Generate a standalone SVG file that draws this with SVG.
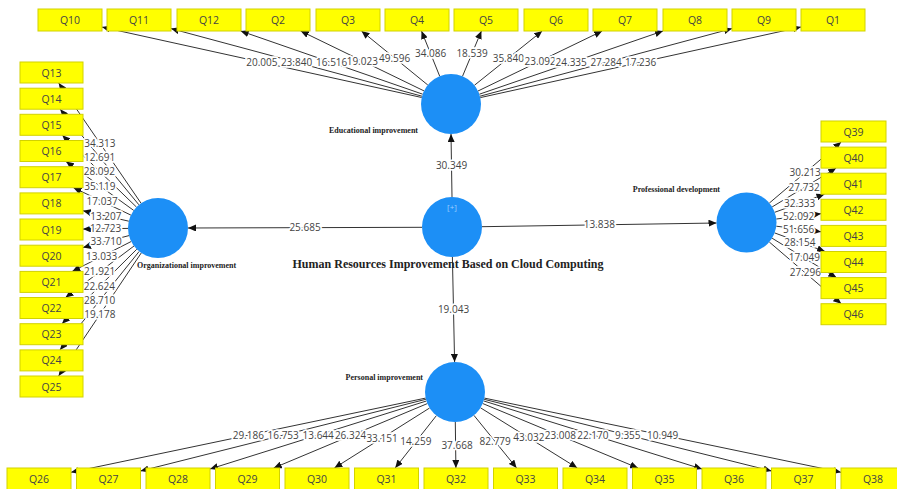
<svg xmlns="http://www.w3.org/2000/svg" width="897" height="489" viewBox="0 0 897 489">
<style>
.ln{stroke:#333;stroke-width:1;fill:none;marker-end:url(#ah)}
.lb{font-family:"Open Sans","Liberation Sans",sans-serif;font-size:10px;fill:#444;text-anchor:middle;stroke:#fff;stroke-width:3.5px;paint-order:stroke;stroke-linejoin:round}
.b{fill:#ffff00;stroke:#d2d200;stroke-width:1}
.bt{font-family:"Open Sans","Liberation Sans",sans-serif;font-size:10.5px;fill:#444;text-anchor:middle}
.c{fill:#1c8ff6}
.nl{font-family:"Liberation Serif",serif;font-weight:bold;font-size:8px;fill:#222}
</style>
<defs>
<marker id="ah" markerUnits="userSpaceOnUse" markerWidth="8" markerHeight="7" refX="8" refY="3.5" orient="auto"><path d="M0,0 L8,3.5 L0,7 z" fill="#111"/></marker>
</defs>
<rect width="897" height="489" fill="#fff"/>
<g id="connectors">
<path class="ln" d="M421.7,97.5 L102,27.1"/>
<path class="ln" d="M422,96.2 L171,28.6"/>
<path class="ln" d="M422.7,94.2 L240.7,31"/>
<path class="ln" d="M424,90.9 L300.7,31"/>
<path class="ln" d="M427.8,85 L361.5,31"/>
<path class="ln" d="M439.7,76.2 L421.5,31"/>
<path class="ln" d="M462.5,76.3 L481.4,31"/>
<path class="ln" d="M474.4,85.3 L542.2,31"/>
<path class="ln" d="M478,91 L602.2,31"/>
<path class="ln" d="M479.4,94.2 L663,31"/>
<path class="ln" d="M480,96.2 L732,28.6"/>
<path class="ln" d="M480.3,97.6 L801,27"/>
<path class="ln" d="M141.1,203.3 L58.7,83"/>
<path class="ln" d="M138.9,204.8 L60.2,109.2"/>
<path class="ln" d="M136.5,207.1 L62.3,135.3"/>
<path class="ln" d="M133.7,210.4 L66,161.5"/>
<path class="ln" d="M130.9,215.1 L73.5,187.7"/>
<path class="ln" d="M128.8,221.2 L83,210.7"/>
<path class="ln" d="M128,228.4 L83,229.1"/>
<path class="ln" d="M129,235.6 L83,247.5"/>
<path class="ln" d="M131.2,241.5 L72.2,271.4"/>
<path class="ln" d="M134,246 L65.5,297.5"/>
<path class="ln" d="M136.8,249.2 L62,323.7"/>
<path class="ln" d="M139.2,251.4 L60,349.9"/>
<path class="ln" d="M141.3,252.9 L58.6,376"/>
<path class="ln" d="M769.3,203.1 L841.2,142"/>
<path class="ln" d="M772.2,206.9 L836.2,168.1"/>
<path class="ln" d="M774.7,212.3 L824.5,194.2"/>
<path class="ln" d="M776.3,219 L821,213.7"/>
<path class="ln" d="M776.3,226.2 L821,231.8"/>
<path class="ln" d="M774.6,232.9 L825.1,251.5"/>
<path class="ln" d="M772.1,238.2 L836.4,277.6"/>
<path class="ln" d="M769.3,242 L841.2,303.7"/>
<path class="ln" d="M425.6,398.1 L71,472.3"/>
<path class="ln" d="M425.9,399.3 L140.5,471"/>
<path class="ln" d="M426.4,401 L210,469"/>
<path class="ln" d="M427.3,403.6 L273.7,468"/>
<path class="ln" d="M429.6,408 L334.4,468"/>
<path class="ln" d="M436.4,415.6 L395.2,468"/>
<path class="ln" d="M455.3,422 L455.9,468"/>
<path class="ln" d="M473.9,415.3 L516.6,468"/>
<path class="ln" d="M480.5,407.8 L577.3,468"/>
<path class="ln" d="M482.7,403.5 L638,468"/>
<path class="ln" d="M483.6,400.9 L702,469"/>
<path class="ln" d="M484.1,399.3 L771.5,471"/>
<path class="ln" d="M484.4,398.1 L841,472.3"/>
<path class="ln" d="M452,197 L451,134"/>
<path class="ln" d="M422,227.3 L188,228"/>
<path class="ln" d="M482,226.7 L716.5,223"/>
<path class="ln" d="M452.4,257 L454.6,362"/>
<text class="lb" x="261.9" y="65.8">20.005</text>
<text class="lb" x="296.5" y="65.9">23.840</text>
<text class="lb" x="331.7" y="66.1">16.516</text>
<text class="lb" x="362.3" y="64.5">19.023</text>
<text class="lb" x="394.6" y="61.5">49.596</text>
<text class="lb" x="430.6" y="57.1">34.086</text>
<text class="lb" x="472" y="57.2">18.539</text>
<text class="lb" x="508.3" y="61.7">35.840</text>
<text class="lb" x="540.1" y="64.5">23.092</text>
<text class="lb" x="571.2" y="66.1">24.335</text>
<text class="lb" x="606" y="65.9">27.284</text>
<text class="lb" x="640.6" y="65.8">17.236</text>
<text class="lb" x="99.9" y="146.6">34.313</text>
<text class="lb" x="99.6" y="160.5">12.691</text>
<text class="lb" x="99.4" y="174.7">28.092</text>
<text class="lb" x="99.9" y="189.5">35.119</text>
<text class="lb" x="102.2" y="204.9">17.037</text>
<text class="lb" x="105.9" y="219.5">13.207</text>
<text class="lb" x="105.5" y="232.3">12.723</text>
<text class="lb" x="106" y="245">33.710</text>
<text class="lb" x="101.7" y="260">13.033</text>
<text class="lb" x="99.7" y="275.3">21.921</text>
<text class="lb" x="99.4" y="289.9">22.624</text>
<text class="lb" x="99.6" y="304.1">28.710</text>
<text class="lb" x="99.9" y="318">19.178</text>
<text class="lb" x="805.2" y="176.1">30.213</text>
<text class="lb" x="804.2" y="191">27.732</text>
<text class="lb" x="799.6" y="206.8">32.333</text>
<text class="lb" x="798.7" y="219.8">52.092</text>
<text class="lb" x="798.7" y="232.5">51.656</text>
<text class="lb" x="799.9" y="245.7">28.154</text>
<text class="lb" x="804.3" y="261.4">17.049</text>
<text class="lb" x="805.3" y="276.4">27.296</text>
<text class="lb" x="248.3" y="438.7">29.186</text>
<text class="lb" x="283.2" y="438.6">16.753</text>
<text class="lb" x="318.2" y="438.5">13.644</text>
<text class="lb" x="350.5" y="439.3">26.324</text>
<text class="lb" x="382" y="441.5">33.151</text>
<text class="lb" x="415.8" y="445.3">14.259</text>
<text class="lb" x="457" y="448.5">37.668</text>
<text class="lb" x="495.2" y="445.2">82.779</text>
<text class="lb" x="528.9" y="441.4">43.032</text>
<text class="lb" x="560.4" y="439.3">23.008</text>
<text class="lb" x="592.8" y="438.5">22.170</text>
<text class="lb" x="627.8" y="438.7">9.355</text>
<text class="lb" x="662.7" y="438.7">10.949</text>
<text class="lb" x="451.5" y="169">30.349</text>
<text class="lb" x="305" y="231.2">25.685</text>
<text class="lb" x="599.3" y="228.3">13.838</text>
<text class="lb" x="453.5" y="313">19.043</text>
</g>
<g id="Q10"><rect class="b" x="38" y="9" width="64" height="22"/><text class="bt" x="70" y="24">Q10</text></g>
<g id="Q11"><rect class="b" x="107" y="9" width="64" height="22"/><text class="bt" x="139" y="24">Q11</text></g>
<g id="Q12"><rect class="b" x="177" y="9" width="64" height="22"/><text class="bt" x="209" y="24">Q12</text></g>
<g id="Q2"><rect class="b" x="246" y="9" width="64" height="22"/><text class="bt" x="278" y="24">Q2</text></g>
<g id="Q3"><rect class="b" x="316" y="9" width="64" height="22"/><text class="bt" x="348" y="24">Q3</text></g>
<g id="Q4"><rect class="b" x="385" y="9" width="64" height="22"/><text class="bt" x="417" y="24">Q4</text></g>
<g id="Q5"><rect class="b" x="454" y="9" width="64" height="22"/><text class="bt" x="486" y="24">Q5</text></g>
<g id="Q6"><rect class="b" x="524" y="9" width="64" height="22"/><text class="bt" x="556" y="24">Q6</text></g>
<g id="Q7"><rect class="b" x="593" y="9" width="64" height="22"/><text class="bt" x="625" y="24">Q7</text></g>
<g id="Q8"><rect class="b" x="663" y="9" width="64" height="22"/><text class="bt" x="695" y="24">Q8</text></g>
<g id="Q9"><rect class="b" x="732" y="9" width="64" height="22"/><text class="bt" x="764" y="24">Q9</text></g>
<g id="Q1"><rect class="b" x="801" y="9" width="64" height="22"/><text class="bt" x="833" y="24">Q1</text></g>
<g id="Q13"><rect class="b" x="20" y="62" width="63" height="21"/><text class="bt" x="51.5" y="76.5">Q13</text></g>
<g id="Q14"><rect class="b" x="20" y="88.2" width="63" height="21"/><text class="bt" x="51.5" y="102.7">Q14</text></g>
<g id="Q15"><rect class="b" x="20" y="114.3" width="63" height="21"/><text class="bt" x="51.5" y="128.8">Q15</text></g>
<g id="Q16"><rect class="b" x="20" y="140.5" width="63" height="21"/><text class="bt" x="51.5" y="155">Q16</text></g>
<g id="Q17"><rect class="b" x="20" y="166.7" width="63" height="21"/><text class="bt" x="51.5" y="181.2">Q17</text></g>
<g id="Q18"><rect class="b" x="20" y="192.9" width="63" height="21"/><text class="bt" x="51.5" y="207.4">Q18</text></g>
<g id="Q19"><rect class="b" x="20" y="219" width="63" height="21"/><text class="bt" x="51.5" y="233.5">Q19</text></g>
<g id="Q20"><rect class="b" x="20" y="245.2" width="63" height="21"/><text class="bt" x="51.5" y="259.7">Q20</text></g>
<g id="Q21"><rect class="b" x="20" y="271.4" width="63" height="21"/><text class="bt" x="51.5" y="285.9">Q21</text></g>
<g id="Q22"><rect class="b" x="20" y="297.5" width="63" height="21"/><text class="bt" x="51.5" y="312">Q22</text></g>
<g id="Q23"><rect class="b" x="20" y="323.7" width="63" height="21"/><text class="bt" x="51.5" y="338.2">Q23</text></g>
<g id="Q24"><rect class="b" x="20" y="349.9" width="63" height="21"/><text class="bt" x="51.5" y="364.4">Q24</text></g>
<g id="Q25"><rect class="b" x="20" y="376" width="63" height="21"/><text class="bt" x="51.5" y="390.5">Q25</text></g>
<g id="Q39"><rect class="b" x="821" y="121" width="65" height="21"/><text class="bt" x="853.5" y="135.5">Q39</text></g>
<g id="Q40"><rect class="b" x="821" y="147.1" width="65" height="21"/><text class="bt" x="853.5" y="161.6">Q40</text></g>
<g id="Q41"><rect class="b" x="821" y="173.2" width="65" height="21"/><text class="bt" x="853.5" y="187.7">Q41</text></g>
<g id="Q42"><rect class="b" x="821" y="199.3" width="65" height="21"/><text class="bt" x="853.5" y="213.8">Q42</text></g>
<g id="Q43"><rect class="b" x="821" y="225.4" width="65" height="21"/><text class="bt" x="853.5" y="239.9">Q43</text></g>
<g id="Q44"><rect class="b" x="821" y="251.5" width="65" height="21"/><text class="bt" x="853.5" y="266">Q44</text></g>
<g id="Q45"><rect class="b" x="821" y="277.6" width="65" height="21"/><text class="bt" x="853.5" y="292.1">Q45</text></g>
<g id="Q46"><rect class="b" x="821" y="303.7" width="65" height="21"/><text class="bt" x="853.5" y="318.2">Q46</text></g>
<g id="Q26"><rect class="b" x="7" y="468" width="64" height="22"/><text class="bt" x="39" y="483">Q26</text></g>
<g id="Q27"><rect class="b" x="76.5" y="468" width="64" height="22"/><text class="bt" x="108.5" y="483">Q27</text></g>
<g id="Q28"><rect class="b" x="146" y="468" width="64" height="22"/><text class="bt" x="178" y="483">Q28</text></g>
<g id="Q29"><rect class="b" x="215.5" y="468" width="64" height="22"/><text class="bt" x="247.5" y="483">Q29</text></g>
<g id="Q30"><rect class="b" x="285" y="468" width="64" height="22"/><text class="bt" x="317" y="483">Q30</text></g>
<g id="Q31"><rect class="b" x="354.5" y="468" width="64" height="22"/><text class="bt" x="386.5" y="483">Q31</text></g>
<g id="Q32"><rect class="b" x="424" y="468" width="64" height="22"/><text class="bt" x="456" y="483">Q32</text></g>
<g id="Q33"><rect class="b" x="493.5" y="468" width="64" height="22"/><text class="bt" x="525.5" y="483">Q33</text></g>
<g id="Q34"><rect class="b" x="563" y="468" width="64" height="22"/><text class="bt" x="595" y="483">Q34</text></g>
<g id="Q35"><rect class="b" x="632.5" y="468" width="64" height="22"/><text class="bt" x="664.5" y="483">Q35</text></g>
<g id="Q36"><rect class="b" x="702" y="468" width="64" height="22"/><text class="bt" x="734" y="483">Q36</text></g>
<g id="Q37"><rect class="b" x="771.5" y="468" width="64" height="22"/><text class="bt" x="803.5" y="483">Q37</text></g>
<g id="Q38"><rect class="b" x="841" y="468" width="64" height="22"/><text class="bt" x="873" y="483">Q38</text></g>
<g id="educational"><circle class="c" cx="451" cy="104" r="30"/><text class="nl" x="418" y="133" text-anchor="end">Educational improvement</text></g>
<g id="organizational"><circle class="c" cx="158" cy="228" r="30"/><text class="nl" x="137" y="268">Organizational improvement</text></g>
<g id="professional"><circle class="c" cx="746.5" cy="222.5" r="30"/><text class="nl" x="720" y="192" text-anchor="end">Professional development</text></g>
<g id="personal"><circle class="c" cx="455" cy="392" r="30"/><text class="nl" x="423" y="380" text-anchor="end">Personal improvement</text></g>
<g id="central"><circle class="c" cx="452" cy="227" r="30"/><text x="452" y="210" font-family="Open Sans, sans-serif" font-size="8" fill="#9fd0ff" text-anchor="middle">[+]</text><text x="448" y="268" font-family="Liberation Serif, serif" font-weight="bold" font-size="12" fill="#222" text-anchor="middle">Human Resources Improvement Based on Cloud Computing</text></g>
</svg>
